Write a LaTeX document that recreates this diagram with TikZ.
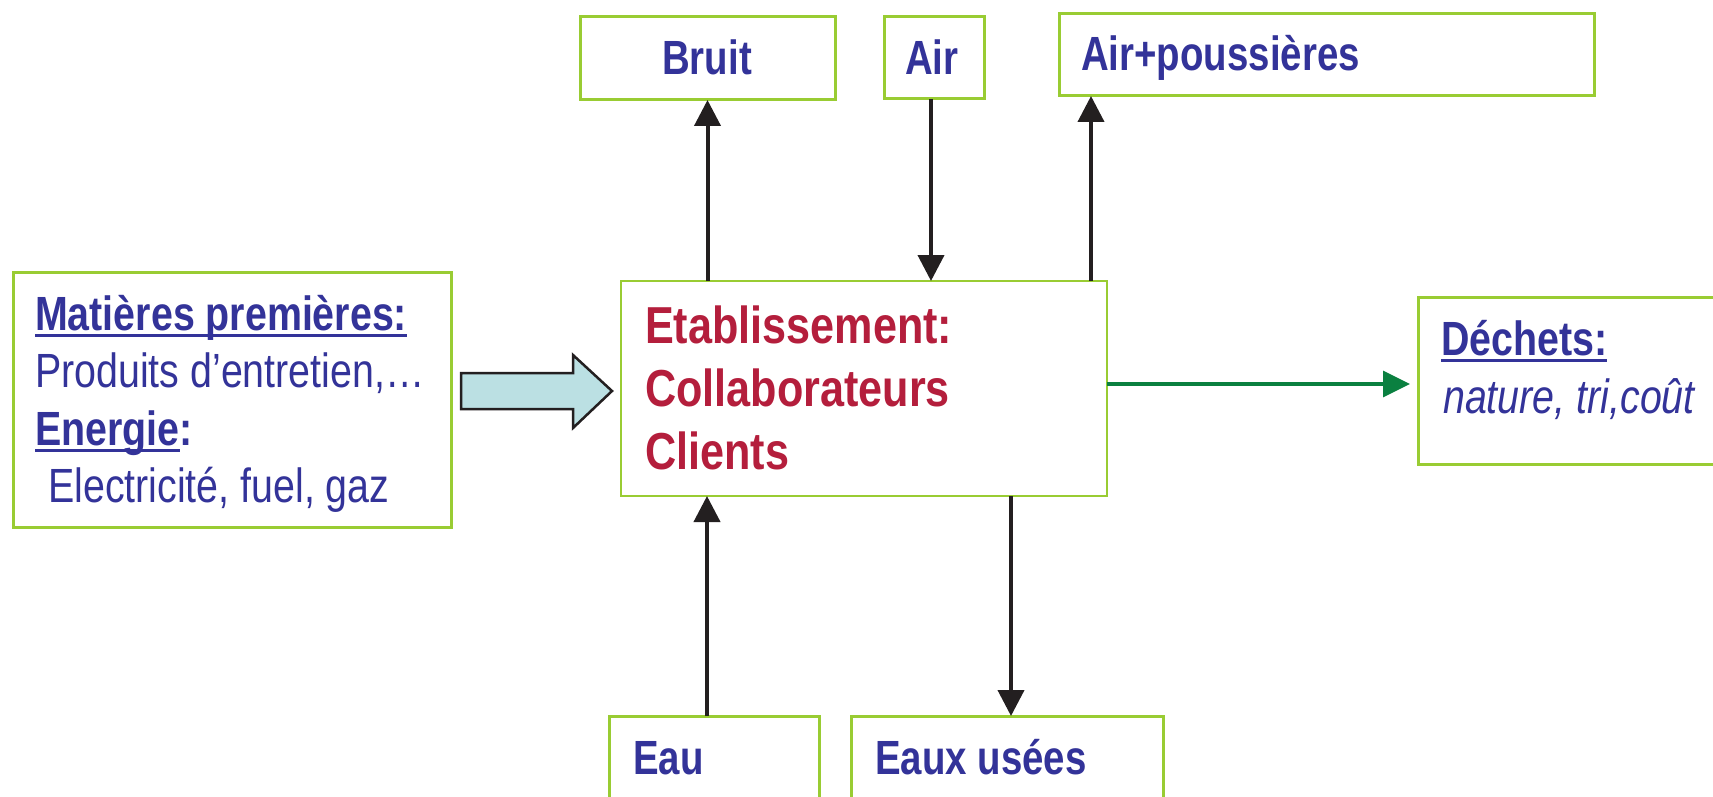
\documentclass[tikz,border=0pt]{standalone}
\usepackage{fontspec}
\setmainfont{Liberation Sans}[FakeStretch=0.8]
\newfontfamily\mainfam{Liberation Sans}[FakeStretch=0.83]
\newfontfamily\leftfam{Liberation Sans}[FakeStretch=0.82]
\usetikzlibrary{arrows.meta,calc}
\definecolor{boxgreen}{RGB}{153,204,51}
\definecolor{txtblue}{RGB}{51,51,153}
\definecolor{txtred}{RGB}{180,30,60}
\definecolor{arrowblue}{RGB}{187,224,227}
\definecolor{arrowgreen}{RGB}{10,128,64}
\definecolor{arrowblack}{RGB}{35,31,32}
\newsavebox\ulbox
\newcommand\ulin[1]{\sbox\ulbox{#1}\rlap{\rule[-6.5pt]{\wd\ulbox}{3pt}}\usebox\ulbox}
\begin{document}
\begin{tikzpicture}[x=1pt,y=-1pt,
  gbox/.style={draw=boxgreen, line width=3pt, inner sep=0pt, outer sep=0pt, anchor=north west},
  mbox/.style={draw=boxgreen, line width=2pt, inner sep=0pt, outer sep=0pt, anchor=north west},
  lbl/.style={anchor=base west, inner sep=0pt, text=txtblue, font=\fontsize{48}{56}\selectfont\bfseries},
  ltxt/.style={anchor=base west, inner sep=0pt, text=txtblue, font=\leftfam\fontsize{48}{56}\selectfont},
  ltxtb/.style={ltxt, font=\leftfam\fontsize{48}{56}\selectfont\bfseries},
  mtxt/.style={anchor=base west, inner sep=0pt, text=txtred, font=\mainfam\fontsize{52}{60}\selectfont\bfseries},
  blk/.style={draw=arrowblack, line width=4pt, -{Triangle[width=26pt,length=26pt]}},
  grn/.style={draw=arrowgreen, line width=3.3pt, -{Triangle[width=26pt,length=27pt]}},
  bigarrow/.style={fill=arrowblue, draw=arrowblack, line width=2.5pt, miter limit=10}
]
\useasboundingbox (0,0) rectangle (1713,797);
\fill[white] (0,0) rectangle (1713,797);

% boxes
\node[gbox, minimum width=438pt, minimum height=255pt] (left) at (13,272) {};
\node[mbox, minimum width=486pt, minimum height=215pt] (main) at (621,281) {};
\node[gbox, minimum width=255pt, minimum height=83pt] (bruit) at (580,17) {};
\node[gbox, minimum width=100pt, minimum height=82pt] (air) at (884,17) {};
\node[gbox, minimum width=535pt, minimum height=82pt] (airp) at (1059,14) {};
\node[gbox, minimum width=330pt, minimum height=167pt] (dechets) at (1418,297) {};
\node[gbox, minimum width=210pt, minimum height=110pt] (eau) at (609,716) {};
\node[gbox, minimum width=312pt, minimum height=110pt] (eaux) at (851,716) {};

% texts
\node[lbl, anchor=base] (bruitT) at (707,75) {Bruit};
\node[lbl] (airT) at (905,75) {Air};
\node[lbl] (airpT) at (1081,71) {Air+poussières};
\node[lbl] (eauT) at (633,774) {Eau};
\node[lbl] (eauxT) at (875,774) {Eaux usées};
\node[ltxtb] (dechT1) at (1441,355) {\ulin{Déchets:}};
\node[ltxt, font=\leftfam\fontsize{48}{56}\selectfont\itshape] (dechT2) at (1443,413) {nature, tri,coût};

\node[ltxtb] (l1) at (35,330) {\ulin{Matières premières:}};
\node[ltxt] (l2) at (35,387) {Produits d’entretien,…};
\node[ltxtb] (l3) at (35,445) {\ulin{Energie}:};
\node[ltxt] (l4) at (48,502) {Electricité, fuel, gaz};

\node[mtxt] (m1) at (645,343) {Etablissement:};
\node[mtxt] (m2) at (645,406) {Collaborateurs};
\node[mtxt] (m3) at (645,469) {Clients};

% connectors
\draw[blk] (main.north -| bruit.south) -- (bruit.south);
\coordinate (ai) at ([xshift=-3pt]air.south);
\draw[blk] (ai) -- (main.north -| ai);
\coordinate (ap) at ([xshift=32pt]airp.south west);
\draw[blk] (main.north -| ap) -- (ap);
\coordinate (ea) at ([xshift=98pt]eau.north west);
\draw[blk] (ea) -- (main.south -| ea);
\coordinate (eu) at ([xshift=160pt]eaux.north west);
\draw[blk] (main.south -| eu) -- (eu);
\coordinate (g) at ([yshift=4.5pt]main.east);
\draw[grn, shorten >=8pt] (g) -- (dechets.west |- g);

% block arrow
\draw[bigarrow] (461,373) -- (573,373) -- (573,355) -- (612,391) -- (573,428) -- (573,409) -- (461,409) -- cycle;
\end{tikzpicture}
\end{document}
